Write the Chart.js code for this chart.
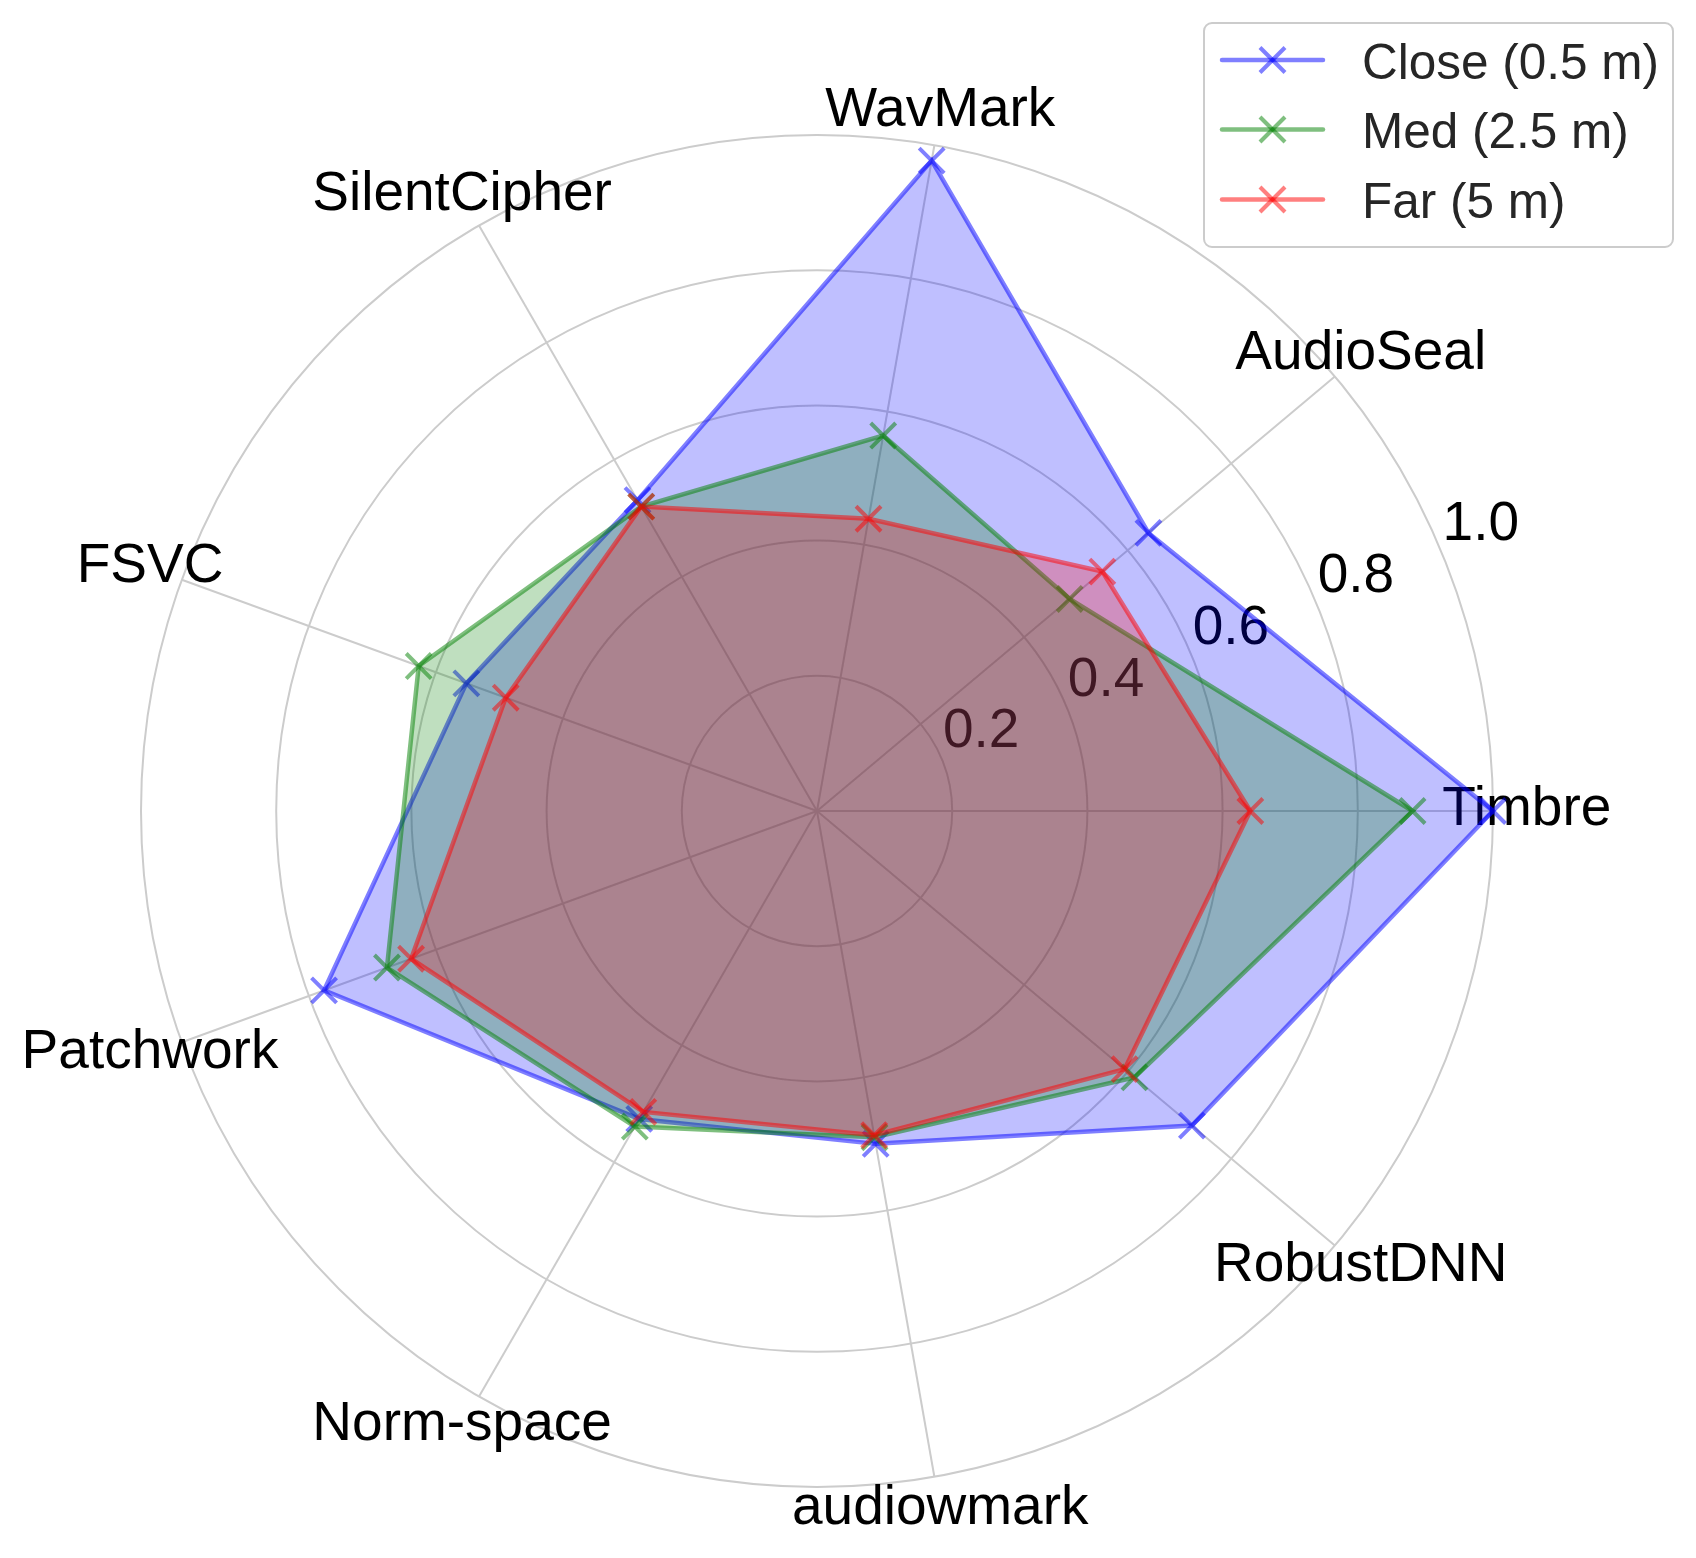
<!DOCTYPE html>
<html>
<head>
<meta charset="utf-8">
<script src="https://cdn.jsdelivr.net/npm/chart.js@4.4.0/dist/chart.umd.min.js"></script>
<style>
  html, body { margin: 0; padding: 0; background: #ffffff; }
  #wrap { width: 1696px; height: 1558px; position: relative; }
</style>
</head>
<body>
<div id="wrap"><canvas id="radar-chart" width="1696" height="1558"></canvas></div>
<script>
// --- data (matplotlib order, counter-clockwise from the right) ---
const CATEGORIES = ['Timbre', 'AudioSeal', 'WavMark', 'SilentCipher', 'FSVC', 'Patchwork', 'Norm-space', 'audiowmark', 'RobustDNN'];
const CLOSE_VALUES = [1.0, 0.64, 0.977, 0.531, 0.552, 0.776, 0.526, 0.50, 0.724];
const MED_VALUES = [0.881, 0.488, 0.564, 0.52, 0.627, 0.677, 0.539, 0.49, 0.613];
const FAR_VALUES = [0.641, 0.551, 0.439, 0.52, 0.49, 0.639, 0.514, 0.487, 0.594];
const SERIES_NAMES = ['Close (0.5 m)', 'Med (2.5 m)', 'Far (5 m)'];
const TICK_VALUES = [0.2, 0.4, 0.6, 0.8, 1.0];
const TICK_LABELS = ['0.2', '0.4', '0.6', '0.8', '1.0'];

const SERIES_RGB = ['0,0,255', '0,128,0', '255,0,0'];
const FONT = '"Liberation Sans", Arial, sans-serif';

// Chart.js goes clockwise, matplotlib counter-clockwise: keep first, reverse the rest
const reorder = arr => [arr[0], ...arr.slice(1).reverse()];
const drawLabels = reorder(CATEGORIES);

function makeDataset(label, values, rgb, order) {
    return {
        label: label,
        data: reorder(values),
        order: order,
        fill: true,
        borderColor: `rgba(${rgb},0.5)`,
        backgroundColor: `rgba(${rgb},0.25)`,
        borderWidth: 4.5,
        pointStyle: 'crossRot',
        pointRadius: 17.7,
        pointHoverRadius: 17.7,
        pointBorderWidth: 4,
        pointBorderColor: `rgba(${rgb},0.5)`,
        pointBackgroundColor: 'rgba(0,0,0,0)'
    };
}

// text under the fills: radial tick labels + category labels
const radarTextPlugin = {
    id: 'radarText',
    beforeDatasetsDraw(chart) {
        const r = chart.scales.r;
        const ctx = chart.ctx;
        ctx.save();
        ctx.fillStyle = '#000000';
        ctx.font = `55px ${FONT}`;

        // matplotlib puts r labels at 22.5 deg
        const ang = -22.5 * Math.PI / 180;
        ctx.textAlign = 'left';
        ctx.textBaseline = 'alphabetic';
        TICK_VALUES.forEach((v, i) => {
            const d = r.getDistanceFromCenterForValue(v);
            ctx.fillText(TICK_LABELS[i], r.xCenter + d * Math.cos(ang) + 1, r.yCenter + d * Math.sin(ang) - 12);
        });

        ctx.textAlign = 'center';
        ctx.textBaseline = 'middle';
        drawLabels.forEach((lab, i) => {
            const p = r.getPointPosition(i, r.getDistanceFromCenterForValue(1.05));
            ctx.fillText(lab, p.x, p.y - 1);
        });
        ctx.restore();
    }
};

// matplotlib-like legend box, top right
const legendPlugin = {
    id: 'mplLegend',
    afterDraw(chart) {
        const ctx = chart.ctx;
        const box = { x: 1204, y: 23, w: 469, h: 224, rad: 8 };
        ctx.save();
        ctx.beginPath();
        ctx.roundRect(box.x, box.y, box.w, box.h, box.rad);
        ctx.fillStyle = 'rgba(255,255,255,0.8)';
        ctx.fill();
        ctx.lineWidth = 2;
        ctx.strokeStyle = '#cccccc';
        ctx.stroke();

        const rowsY = [60, 129.5, 199.5];
        SERIES_NAMES.forEach((name, i) => {
            const col = `rgba(${SERIES_RGB[i]},0.5)`;
            const y = rowsY[i];
            ctx.strokeStyle = col;
            ctx.lineWidth = 4.5;
            ctx.lineCap = 'round';
            ctx.beginPath();
            ctx.moveTo(1222, y);
            ctx.lineTo(1323, y);
            ctx.stroke();
            // x marker
            ctx.lineCap = 'butt';
            ctx.lineWidth = 4;
            const h = 12.5;
            ctx.beginPath();
            ctx.moveTo(1272.5 - h, y - h); ctx.lineTo(1272.5 + h, y + h);
            ctx.stroke();
            ctx.beginPath();
            ctx.moveTo(1272.5 - h, y + h); ctx.lineTo(1272.5 + h, y - h);
            ctx.stroke();

            ctx.fillStyle = '#262626';
            ctx.font = `49.5px ${FONT}`;
            ctx.textAlign = 'left';
            ctx.textBaseline = 'middle';
            ctx.fillText(name, 1362, y + 5);
        });
        ctx.restore();
    }
};

const ctx = document.getElementById('radar-chart').getContext('2d');
const myChart = new Chart(ctx, {
    type: 'radar',
    data: {
        labels: drawLabels,
        datasets: [
            makeDataset(SERIES_NAMES[0], CLOSE_VALUES, SERIES_RGB[0], 3),
            makeDataset(SERIES_NAMES[1], MED_VALUES, SERIES_RGB[1], 2),
            makeDataset(SERIES_NAMES[2], FAR_VALUES, SERIES_RGB[2], 1)
        ]
    },
    options: {
        responsive: false,
        animation: false,
        devicePixelRatio: 1,
        layout: { padding: { left: 141, top: 135, right: 203, bottom: 71 } },
        elements: { line: { tension: 0 } },
        scales: {
            r: {
                min: 0,
                max: 1,
                startAngle: 90,
                ticks: { display: false, stepSize: 0.2 },
                grid: { circular: true, color: '#cccccc', lineWidth: 2 },
                angleLines: { display: true, color: '#cccccc', lineWidth: 2 },
                pointLabels: { display: false }
            }
        },
        plugins: {
            legend: { display: false },
            tooltip: { enabled: false }
        }
    },
    plugins: [radarTextPlugin, legendPlugin]
});
</script>
</body>
</html>
